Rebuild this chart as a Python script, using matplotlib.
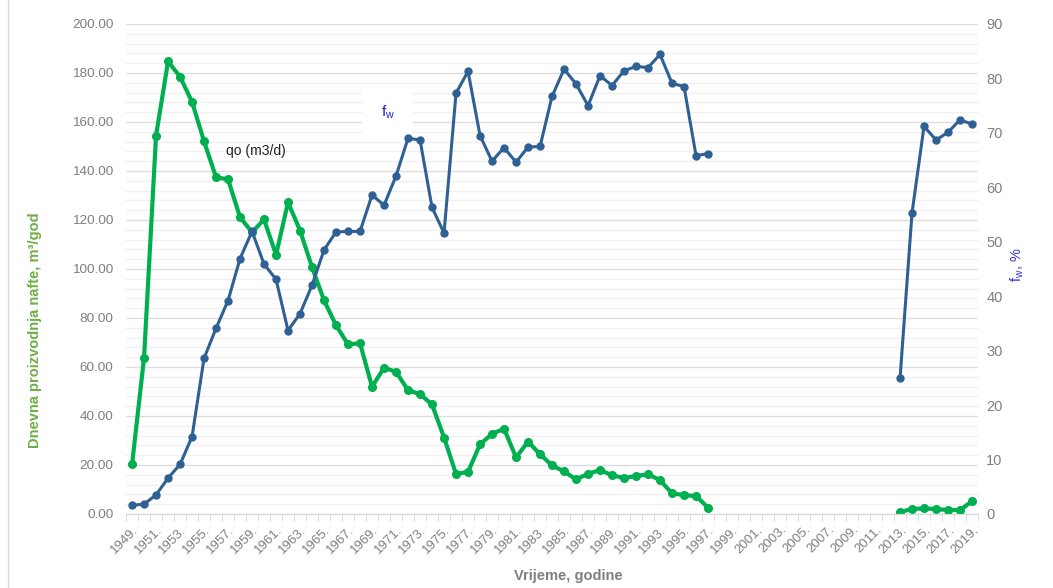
import numpy as np
import matplotlib
matplotlib.use("Agg")
import matplotlib.pyplot as plt
from matplotlib.lines import Line2D

plt.rcParams['font.family'] = ['Liberation Sans', 'DejaVu Sans']

years = list(range(1949, 2020))

# daily oil production, m3/d
qo_years_1 = list(range(1949, 1998))
qo_1 = [20.2, 63.7, 154.4, 184.7, 178.5, 168.2, 152.1, 137.4, 136.6, 121.1,
        115.0, 120.2, 105.8, 127.2, 115.7, 100.7, 87.2, 77.0, 69.2, 69.7,
        51.9, 59.7, 58.0, 50.5, 48.9, 44.7, 31.2, 16.3, 17.2, 28.4,
        32.7, 34.8, 23.1, 29.5, 24.4, 19.8, 17.4, 14.1, 16.4, 17.9,
        15.8, 14.7, 15.5, 16.2, 13.8, 8.4, 7.7, 7.3, 2.6]
qo_years_2 = list(range(2013, 2020))
qo_2 = [0.8, 2.0, 2.3, 2.0, 1.6, 1.6, 5.2]

# water cut, %
fw_1 = [1.6, 1.8, 3.5, 6.6, 9.1, 14.2, 28.6, 34.1, 39.2, 46.9,
        51.9, 45.9, 43.1, 33.7, 36.8, 42.0, 48.5, 51.8, 51.9, 51.9,
        58.6, 56.7, 62.1, 69.0, 68.7, 56.3, 51.6, 77.3, 81.3, 69.5,
        64.8, 67.3, 64.6, 67.4, 67.5, 76.7, 81.7, 79.0, 75.0, 80.5,
        78.7, 81.4, 82.2, 82.0, 84.4, 79.1, 78.5, 65.8, 66.2]
fw_2 = [24.9, 55.3, 71.2, 68.7, 70.1, 72.4, 71.6]

green = '#00b050'
blue = '#2e6094'
grey = '#7f7f7f'

fig = plt.figure(figsize=(10.53, 5.88), dpi=100)
ax = fig.add_axes([0.1197, 0.1259, 0.8091, 0.8333])
ax2 = ax.twinx()

def idx(ys):
    return [y - years[0] for y in ys]

ax.plot(idx(qo_years_1), qo_1, color=green, lw=3, marker='o', ms=5.5, zorder=3)
ax.plot(idx(qo_years_2), qo_2, color=green, lw=3, marker='o', ms=5.5, zorder=3)
ax2.plot(idx(qo_years_1), fw_1, color=blue, lw=2.2, marker='o', ms=5, zorder=3)
ax2.plot(idx(qo_years_2), fw_2, color=blue, lw=2.2, marker='o', ms=5, zorder=3)

ax.set_ylim(0, 200)
ax2.set_ylim(0, 90)
ax.set_xlim(-0.5, len(years) - 0.5)

ax.set_yticks(np.arange(0, 201, 20))
ax.set_yticklabels(['%.2f' % v for v in np.arange(0, 201, 20)])
ax.set_yticks(np.arange(0, 201, 4), minor=True)
ax2.set_yticks(np.arange(0, 91, 10))

ax.grid(True, which='major', axis='y', color='#dedede', lw=1)
ax.grid(True, which='minor', axis='y', color='#f0f0f0', lw=1)
ax.set_axisbelow(True)

ax.set_xticks(range(0, len(years), 2))
ax.set_xticklabels(['%d.' % y for y in years[::2]], rotation=45, ha='right',
                   rotation_mode='anchor', fontsize=9.5, color=grey)
ax.set_xticks(np.arange(-0.5, len(years)), minor=True)
ax.tick_params(axis='x', which='major', length=0, pad=7)
ax.tick_params(axis='x', which='minor', length=5, color='#d9d9d9')
ax.tick_params(axis='y', which='both', length=0, labelsize=9.7, labelcolor=grey, pad=9)
ax2.tick_params(axis='y', length=0, labelsize=10.5, labelcolor=grey, pad=6)

for a in (ax, ax2):
    for s in ('top', 'left', 'right'):
        a.spines[s].set_visible(False)
    a.spines['bottom'].set_color('#d9d9d9')

fig.text(568 / 1053, 1 - 576 / 588, 'Vrijeme, godine', fontsize=10.5, fontweight='bold',
         color=grey, ha='center', va='center')
fig.text(35 / 1053, 1 - 330 / 588, 'Dnevna proizvodnja nafte, m³/god', fontsize=10.5,
         fontweight='bold', color='#70ad47', rotation=90, ha='center', va='center')
fig.text(1017 / 1053, 1 - 265 / 588, r'f$_\mathregular{w}$, %', fontsize=10.5,
         color='#3333dd', rotation=90, ha='center', va='center')

ax.text(10.3, 148, 'qo (m3/d)', fontsize=10, color='#222222', ha='center', va='center')
ax.text(21.3, 164, r'f$_\mathregular{w}$', fontsize=11, color='#2222cc', ha='center', va='center',
        bbox=dict(facecolor='white', edgecolor='none', boxstyle='square,pad=1.2'))

fig.add_artist(Line2D([0.0076, 0.0076], [0, 1], color='#d9d9d9', lw=1))

fig.savefig('out.png', dpi=100)
